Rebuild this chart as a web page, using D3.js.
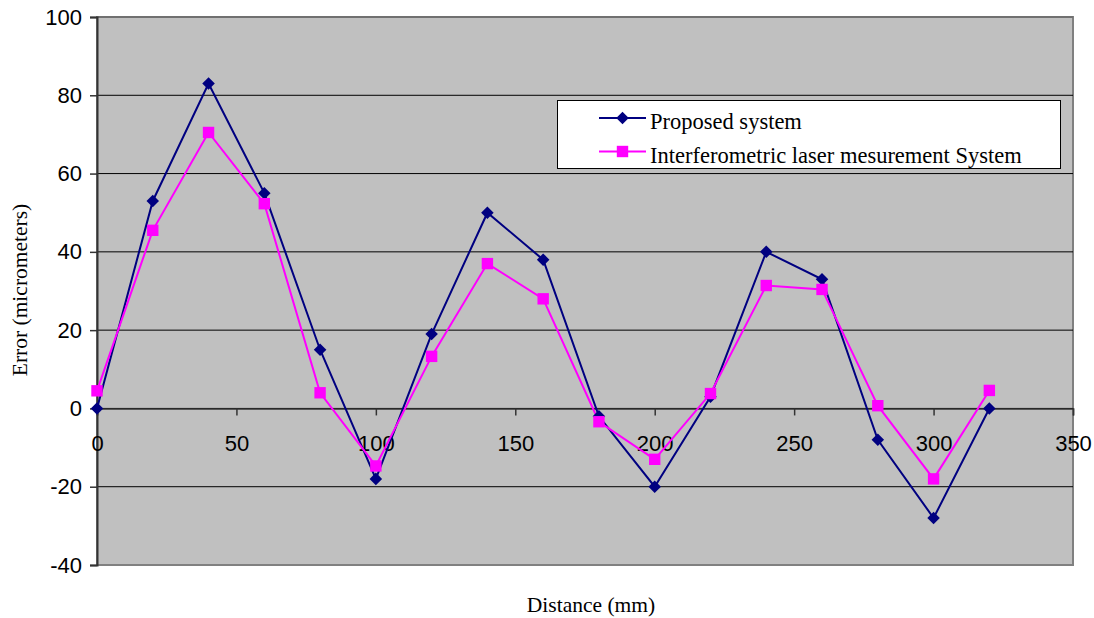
<!DOCTYPE html>
<html>
<head>
<meta charset="utf-8">
<script src="https://cdn.jsdelivr.net/npm/d3@7"></script>
<style>
    body { margin: 0; background: #fff; }
    .tick text { font-family: "Liberation Sans", Arial, sans-serif; font-size: 22px; fill: #000; }
</style>
</head>
<body>
<div id="chart"></div>
<script>
// Distance along the axis (mm)
const distances = [0, 20, 40, 60, 80, 100, 120, 140, 160, 180, 200, 220, 240, 260, 280, 300, 320];
// Error readings (micrometers)
const proposedValues = [0, 53, 83, 55, 15, -18, 19, 50, 38, -2, -20, 3, 40, 33, -8, -28, 0];
const laserValues = [4.5, 45.5, 70.5, 52.3, 4, -14.7, 13.3, 37, 28, -3.4, -13, 3.8, 31.4, 30.4, 0.7, -18, 4.6];
const xTicks = [0, 50, 100, 150, 200, 250, 300, 350];
const yTicks = [-40, -20, 0, 20, 40, 60, 80, 100];
const seriesNames = ["Proposed system", "Interferometric laser mesurement System"];

const width = 1094, height = 618;
const margin = { top: 17, right: 21, bottom: 53, left: 97 };
const innerWidth = width - margin.left - margin.right;
const innerHeight = height - margin.top - margin.bottom;
const serif = "'Liberation Serif', 'Times New Roman', serif";

const svg = d3.select("#chart")
    .append("svg")
    .attr("width", width)
    .attr("height", height);

const g = svg.append("g")
    .attr("transform", `translate(${margin.left},${margin.top})`);

const x = d3.scaleLinear().domain([0, 350]).range([0, innerWidth]);
const y = d3.scaleLinear().domain([-40, 100]).range([innerHeight, 0]);

// Plot area background
g.append("rect")
    .attr("width", innerWidth)
    .attr("height", innerHeight)
    .attr("fill", "#c0c0c0")
    .attr("stroke", "#808080")
    .attr("stroke-width", 2);

// Horizontal gridlines
g.append("g")
    .selectAll("line")
    .data(yTicks.filter(d => d > -40))
    .join("line")
    .attr("x1", 0)
    .attr("x2", innerWidth)
    .attr("y1", d => y(d))
    .attr("y2", d => y(d))
    .attr("stroke", d => d === 100 ? "#606060" : "#000")
    .attr("stroke-width", 1);

// Y axis (plain hyphen for negatives, like the original)
const yAxis = g.append("g")
    .call(d3.axisLeft(y).tickValues(yTicks).tickFormat(d => String(d)).tickSize(7).tickPadding(8));
yAxis.select(".domain").attr("stroke", "#333").attr("stroke-width", 2);
yAxis.selectAll(".tick line").attr("stroke", "#333").attr("stroke-width", 1.5);

// X axis along zero
const xAxis = g.append("g")
    .attr("transform", `translate(0,${y(0)})`)
    .call(d3.axisBottom(x).tickValues(xTicks).tickFormat(d => String(d)).tickSize(7).tickPadding(20));
xAxis.select(".domain").attr("stroke", "#333").attr("stroke-width", 1.5);
xAxis.selectAll(".tick line").attr("stroke", "#333").attr("stroke-width", 1.5);

// Lines
const line = d3.line()
    .x((_, i) => x(distances[i]))
    .y(d => y(d));

g.append("path")
    .datum(proposedValues)
    .attr("fill", "none")
    .attr("stroke", "#000080")
    .attr("stroke-width", 2)
    .attr("d", line);

g.append("path")
    .datum(laserValues)
    .attr("fill", "none")
    .attr("stroke", "#ff00ff")
    .attr("stroke-width", 2)
    .attr("d", line);

// Markers
const diamond = d3.symbol().type(d3.symbolDiamond2).size(100);
const square = d3.symbol().type(d3.symbolSquare).size(130);

g.append("g")
    .selectAll("path")
    .data(proposedValues)
    .join("path")
    .attr("transform", (d, i) => `translate(${x(distances[i])},${y(d)})`)
    .attr("d", diamond)
    .attr("fill", "#000080");

g.append("g")
    .selectAll("path")
    .data(laserValues)
    .join("path")
    .attr("transform", (d, i) => `translate(${x(distances[i])},${y(d)})`)
    .attr("d", square)
    .attr("fill", "#ff00ff");

// Legend
const legend = svg.append("g").attr("transform", "translate(557.5,100.5)");
legend.append("rect")
    .attr("width", 503)
    .attr("height", 68)
    .attr("fill", "#fff")
    .attr("stroke", "#000")
    .attr("stroke-width", 1);

const legendItems = [
    { name: seriesNames[0], color: "#000080", symbol: diamond },
    { name: seriesNames[1], color: "#ff00ff", symbol: square }
];
legendItems.forEach((item, i) => {
    const row = legend.append("g").attr("transform", `translate(0,${17.5 + i * 33.5})`);
    row.append("line")
        .attr("x1", 41.5).attr("x2", 88.5)
        .attr("stroke", item.color)
        .attr("stroke-width", 2);
    row.append("path")
        .attr("transform", "translate(65,0)")
        .attr("d", item.symbol)
        .attr("fill", item.color);
    row.append("text")
        .attr("x", 92.5)
        .attr("y", 11)
        .attr("font-family", serif)
        .attr("font-size", 22.5)
        .text(item.name);
});

// Axis titles
svg.append("text")
    .attr("text-anchor", "middle")
    .attr("transform", "rotate(-90)")
    .attr("x", -290)
    .attr("y", 27)
    .attr("font-family", serif)
    .attr("font-size", 21.5)
    .text("Error (micrometers)");

svg.append("text")
    .attr("text-anchor", "middle")
    .attr("x", 591)
    .attr("y", 612)
    .attr("font-family", serif)
    .attr("font-size", 21.5)
    .text("Distance (mm)");
</script>
</body>
</html>
